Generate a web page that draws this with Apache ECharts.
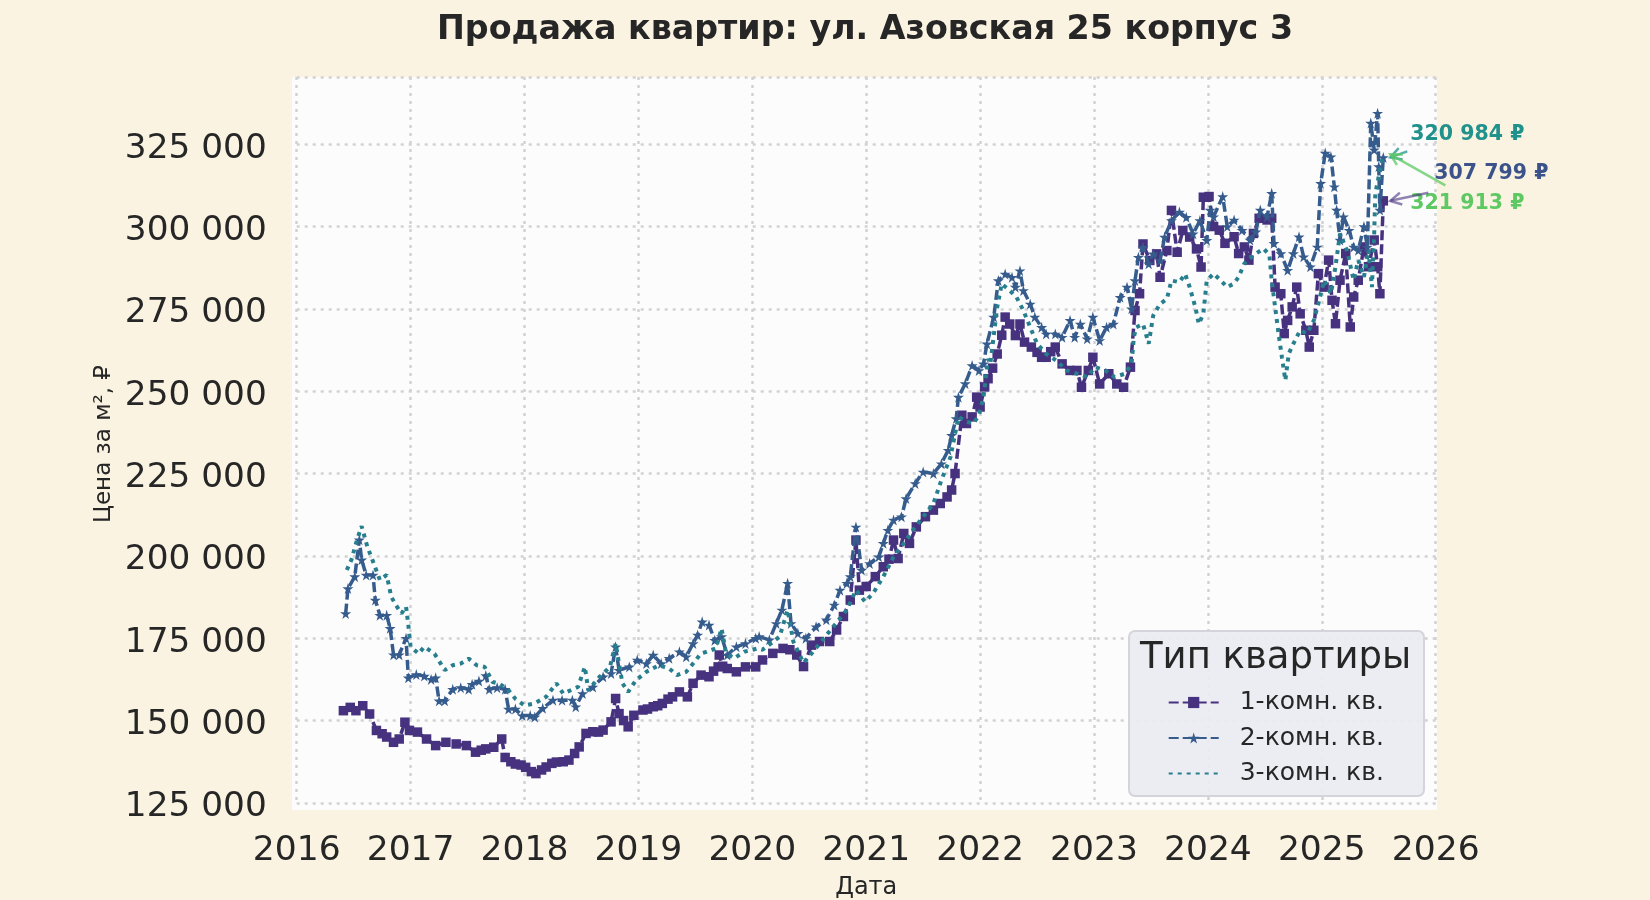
<!DOCTYPE html>
<html>
<head>
<meta charset="utf-8">
<title>Продажа квартир</title>
<script src="https://cdn.jsdelivr.net/npm/echarts@6/dist/echarts.min.js"></script>
<style>
  html, body { margin: 0; padding: 0; background: #FAF3E1; }
  #main { width: 1650px; height: 900px; }
</style>
</head>
<body>
<div id="main"></div>
<script>
// даты в долях года, цены за м² в рублях
const years1 = [2016.41, 2016.47, 2016.52, 2016.58, 2016.64, 2016.70, 2016.75, 2016.79, 2016.85, 2016.90, 2016.95, 2016.99,
  2017.06, 2017.14, 2017.22, 2017.31, 2017.40, 2017.49, 2017.57, 2017.62, 2017.66, 2017.73, 2017.80, 2017.83, 2017.88, 2017.92, 2017.97,
  2018.01, 2018.06, 2018.10, 2018.15, 2018.19, 2018.24, 2018.28, 2018.34, 2018.39, 2018.44, 2018.48, 2018.54, 2018.60, 2018.65, 2018.69,
  2018.76, 2018.80, 2018.83, 2018.87, 2018.91, 2018.96, 2019.04, 2019.08, 2019.13, 2019.17, 2019.21, 2019.26, 2019.30, 2019.36, 2019.43,
  2019.48, 2019.55, 2019.62, 2019.66, 2019.70, 2019.71, 2019.74, 2019.78, 2019.86, 2019.94, 2020.03, 2020.09, 2020.18, 2020.27, 2020.33,
  2020.39, 2020.45, 2020.52, 2020.59, 2020.68, 2020.74, 2020.80, 2020.86, 2020.91, 2020.94, 2021.00, 2021.08, 2021.15, 2021.20, 2021.24,
  2021.28, 2021.33, 2021.38, 2021.44, 2021.52, 2021.59, 2021.65, 2021.71, 2021.75, 2021.78, 2021.84, 2021.88, 2021.93, 2021.97, 2022.00,
  2022.04, 2022.07, 2022.11, 2022.15, 2022.19, 2022.22, 2022.26, 2022.31, 2022.35, 2022.39, 2022.45, 2022.50, 2022.54, 2022.58, 2022.62,
  2022.66, 2022.72, 2022.79, 2022.85, 2022.89, 2022.95, 2022.99, 2023.05, 2023.13, 2023.20, 2023.26, 2023.32, 2023.36, 2023.40, 2023.43,
  2023.49, 2023.55, 2023.58, 2023.64, 2023.68, 2023.73, 2023.78, 2023.84, 2023.90, 2023.94, 2023.96, 2024.01, 2024.05, 2024.10, 2024.15,
  2024.23, 2024.27, 2024.32, 2024.36, 2024.40, 2024.45, 2024.52, 2024.56, 2024.59, 2024.64, 2024.67, 2024.70, 2024.74, 2024.78, 2024.81,
  2024.86, 2024.89, 2024.93, 2024.97, 2025.02, 2025.06, 2025.09, 2025.12, 2025.16, 2025.21, 2025.25, 2025.28, 2025.32, 2025.37, 2025.41,
  2025.46, 2025.49, 2025.51, 2025.54]
const price1 = [153000, 154000, 153000, 154500, 152000, 147000, 146000, 145000, 143400, 144400, 149500, 147000,
  146500, 144400, 142400, 143400, 142900, 142400, 140400, 141000, 141400, 141900, 144400, 138800, 137500, 136800, 136500,
  135800, 134500, 133900, 135000, 135900, 137000, 137400, 137500, 138000, 140000, 142000, 146100, 146600, 146500, 147100,
  149600, 156700, 152100, 150000, 148100, 151600, 153200, 153500, 154200, 154500, 155200, 156500, 157200, 158700, 157200,
  161300, 163800, 163300, 165000, 166300, 169900, 166500, 165800, 164800, 166300, 166300, 168400, 170400, 171900, 171500,
  169900, 166400, 172900, 174000, 174000, 177500, 181600, 186600, 204800, 189600, 190700, 193700, 196700, 199000, 204800,
  199200, 206800, 203800, 208800, 211900, 213900, 215900, 217900, 220000, 225000, 242700, 240200, 242200, 248200, 245200,
  251300, 253800, 257000, 261300, 267000, 272500, 270400, 266900, 270400, 264900, 263400, 261800, 260300, 260300, 262000,
  263400, 258300, 256300, 256300, 251200, 256300, 260300, 252200, 255300, 252200, 251200, 257300, 274500, 279600, 294700,
  289700, 291700, 284600, 292700, 304900, 292200, 298800, 296800, 293200, 287700, 308900, 309100, 300000, 298900, 294900,
  296900, 291800, 293800, 289800, 297900, 302500, 302000, 302500, 281600, 279600, 267500, 271500, 275600, 281600, 273500,
  268500, 263400, 268500, 285700, 281600, 289800, 277600, 270500, 283700, 291800, 269500, 278600, 283700, 293800, 287800,
  295900, 287800, 279600, 307799]

const years2 = [2016.43, 2016.45, 2016.51, 2016.55, 2016.57, 2016.61, 2016.67, 2016.69, 2016.73, 2016.79, 2016.82, 2016.85, 2016.90,
  2016.96, 2016.98, 2017.05, 2017.12, 2017.18, 2017.22, 2017.25, 2017.30, 2017.37, 2017.44, 2017.51, 2017.54, 2017.60, 2017.66, 2017.69,
  2017.76, 2017.83, 2017.86, 2017.92, 2017.98, 2018.05, 2018.09, 2018.16, 2018.25, 2018.33, 2018.42, 2018.45, 2018.51, 2018.60, 2018.69,
  2018.76, 2018.80, 2018.83, 2018.92, 2018.99, 2019.07, 2019.13, 2019.20, 2019.27, 2019.36, 2019.42, 2019.48, 2019.52, 2019.56, 2019.62,
  2019.67, 2019.73, 2019.78, 2019.86, 2019.94, 2020.03, 2020.06, 2020.15, 2020.21, 2020.26, 2020.31, 2020.34, 2020.40, 2020.47, 2020.56,
  2020.65, 2020.72, 2020.77, 2020.83, 2020.86, 2020.91, 2020.96, 2021.03, 2021.11, 2021.15, 2021.19, 2021.24, 2021.31, 2021.35, 2021.43,
  2021.50, 2021.59, 2021.66, 2021.72, 2021.75, 2021.79, 2021.81, 2021.87, 2021.93, 2021.99, 2022.03, 2022.06, 2022.12, 2022.16, 2022.22,
  2022.28, 2022.31, 2022.35, 2022.38, 2022.44, 2022.48, 2022.54, 2022.58, 2022.66, 2022.72, 2022.79, 2022.83, 2022.88, 2022.94, 2022.99,
  2023.05, 2023.11, 2023.17, 2023.23, 2023.29, 2023.33, 2023.36, 2023.39, 2023.43, 2023.48, 2023.52, 2023.58, 2023.62, 2023.68, 2023.75,
  2023.81, 2023.87, 2023.93, 2023.99, 2024.02, 2024.05, 2024.13, 2024.17, 2024.23, 2024.30, 2024.37, 2024.42, 2024.46, 2024.52, 2024.56,
  2024.58, 2024.64, 2024.70, 2024.75, 2024.80, 2024.84, 2024.90, 2024.96, 2024.99, 2025.03, 2025.08, 2025.11, 2025.13, 2025.16, 2025.19,
  2025.24, 2025.28, 2025.32, 2025.37, 2025.40, 2025.43, 2025.46, 2025.49, 2025.50, 2025.51, 2025.54]
const price2 = [182500, 190100, 193700, 204900, 198800, 194200, 194200, 186600, 182000, 182000, 178000, 170000, 170000,
  175000, 163000, 164000, 163500, 162500, 163000, 156000, 156000, 159500, 160000, 159500, 161000, 162000, 163700, 159500,
  160000, 159500, 153500, 153500, 151500, 151500, 151100, 153700, 156200, 156200, 156200, 154200, 158200, 160200, 163300,
  164300, 172400, 165300, 166300, 168400, 167300, 169900, 167300, 168900, 170900, 169400, 173400, 176000, 180000, 179000,
  174400, 175500, 169900, 172400, 173400, 175000, 175500, 174500, 179500, 183600, 191700, 179500, 176500, 175000, 178500,
  180600, 185100, 189600, 191700, 193700, 208800, 195700, 197700, 199700, 203800, 207800, 210900, 211900, 217400, 222000,
  225500, 225000, 228000, 232100, 236600, 241700, 248200, 252300, 257800, 256300, 258300, 264400, 272500, 283600, 285600,
  284600, 281600, 286600, 280600, 276500, 272500, 269400, 267400, 267400, 266400, 271500, 266400, 270400, 265900, 272500,
  265400, 269400, 270400, 278500, 281600, 275000, 283600, 290700, 293700, 288700, 291700, 289700, 296800, 301800, 304400,
  302800, 297800, 301800, 295800, 305000, 303000, 309100, 300000, 302000, 298900, 295900, 298400, 305000, 303000, 310100,
  294900, 291800, 286700, 291800, 296900, 290800, 287800, 293800, 313100, 322300, 321200, 312100, 305000, 295900, 303000,
  298900, 293800, 292800, 300000, 293800, 331400, 323300, 334400, 318200, 305000, 320984]

const years3 = [2016.44, 2016.48, 2016.53, 2016.57, 2016.62, 2016.67, 2016.73, 2016.79, 2016.83, 2016.87, 2016.92, 2016.96, 2016.98,
  2017.00, 2017.07, 2017.12, 2017.21, 2017.30, 2017.37, 2017.44, 2017.51, 2017.58, 2017.65, 2017.72, 2017.78, 2017.86, 2017.92,
  2018.00, 2018.09, 2018.19, 2018.28, 2018.34, 2018.47, 2018.53, 2018.56, 2018.66, 2018.75, 2018.80, 2018.86, 2018.91, 2018.98,
  2019.07, 2019.18, 2019.27, 2019.34, 2019.42, 2019.48, 2019.55, 2019.60, 2019.68, 2019.73, 2019.77, 2019.84, 2019.93, 2020.05,
  2020.09, 2020.24, 2020.31, 2020.36, 2020.45, 2020.56, 2020.71, 2020.83, 2020.91, 2020.99, 2021.06, 2021.15, 2021.24, 2021.33,
  2021.41, 2021.50, 2021.59, 2021.66, 2021.74, 2021.81, 2021.88, 2021.94, 2021.99, 2022.03, 2022.07, 2022.09, 2022.15, 2022.19,
  2022.26, 2022.32, 2022.38, 2022.44, 2022.50, 2022.58, 2022.67, 2022.76, 2022.85, 2022.94, 2023.01, 2023.10, 2023.18, 2023.27,
  2023.33, 2023.35, 2023.37, 2023.43, 2023.48, 2023.52, 2023.58, 2023.64, 2023.68, 2023.75, 2023.80, 2023.84, 2023.89, 2023.92,
  2023.96, 2023.99, 2024.05, 2024.11, 2024.17, 2024.23, 2024.27, 2024.32, 2024.40, 2024.49, 2024.54, 2024.56, 2024.59, 2024.62,
  2024.65, 2024.68, 2024.71, 2024.75, 2024.81, 2024.87, 2024.93, 2024.97, 2025.02, 2025.08, 2025.12, 2025.16, 2025.22, 2025.28,
  2025.32, 2025.37, 2025.41, 2025.44, 2025.46, 2025.47, 2025.50, 2025.54]
const price3 = [195700, 198800, 204900, 209000, 202800, 198300, 192700, 194200, 187600, 185100, 182500, 184600, 179000,
  172400, 170300, 172400, 170300, 165300, 166800, 167300, 168800, 166800, 166300, 161700, 161200, 159200, 156600,
  154600, 155200, 157200, 161300, 158200, 160200, 166300, 159200, 163300, 166300, 173400, 161300, 158700, 162300,
  164800, 166800, 165800, 163800, 164800, 167300, 170400, 170900, 171900, 178000, 170400, 168900, 170900, 171900,
  171500, 175500, 183600, 174000, 167500, 172000, 178500, 183600, 189600, 186100, 188600, 193700, 199700, 203800,
  207800, 211900, 215900, 223000, 230000, 242200, 240700, 240200, 242700, 248200, 259800, 258300, 275500, 282600,
  280600, 278500, 274500, 269400, 264400, 261300, 259300, 256300, 255300, 254300, 257300, 256300, 254300, 255300,
  258300, 266400, 269400, 270400, 264400, 273000, 276500, 278000, 283600, 283100, 285600, 281600, 275500, 270400,
  273500, 283600, 285700, 283700, 281600, 282700, 284700, 288800, 291300, 293300, 291300, 283700, 275600, 267500,
  260300, 253300, 261400, 264400, 268500, 267500, 271500, 276600, 283700, 279600, 287800, 297900, 292800, 283700,
  289800, 284700, 292800, 281600, 297900, 310100, 315200, 321913]

const seriesNames = ['1-комн. кв.', '2-комн. кв.', '3-комн. кв.']
const seriesColors = ['#46327E', '#365C8D', '#277F8E']
const yearTicks = [2016, 2017, 2018, 2019, 2020, 2021, 2022, 2023, 2024, 2025, 2026]

const STAR = 'path://M50,0 L61,35 L98,35 L68,57 L79,91 L50,70 L21,91 L32,57 L2,35 L39,35 Z'
const TXT = '#262626'
const FONT = 'DejaVu Sans'
const GRIDLINE = { color: '#D2D2D2', width: 2.5, type: [3, 5] }

const zip = (xs, ys) => xs.map((x, i) => [x, ys[i]])
const fmtRub = v => String(Math.round(v)).replace(/\B(?=(\d{3})+(?!\d))/g, ' ')

const chart = echarts.init(document.getElementById('main'), null, { renderer: 'canvas' })

chart.setOption({
  backgroundColor: '#FAF3E1',
  animation: false,
  textStyle: { fontFamily: FONT },
  title: {
    text: 'Продажа квартир: ул. Азовская 25 корпус 3',
    left: 860,
    top: 9,
    textAlign: 'center',
    textStyle: { fontFamily: FONT, fontSize: 33.3, fontWeight: 'bold', color: TXT }
  },
  grid: { left: 296.7, right: 214.3, top: 77, bottom: 97.1, containLabel: false, outerBoundsMode: 'none' },
  xAxis: {
    type: 'value',
    min: yearTicks[0],
    max: yearTicks[yearTicks.length - 1],
    interval: 1,
    name: 'Дата',
    nameLocation: 'middle',
    nameGap: 73,
    nameTextStyle: { fontFamily: FONT, fontSize: 24, color: TXT },
    axisLine: { show: false },
    axisTick: { show: false },
    axisLabel: { margin: 31, fontSize: 34.5, color: TXT, fontFamily: FONT, formatter: v => String(v) },
    splitLine: { show: true, lineStyle: GRIDLINE }
  },
  yAxis: {
    type: 'value',
    min: 125000,
    max: 345400,
    interval: 25000,
    name: 'Цена за м², ₽',
    nameLocation: 'middle',
    nameGap: 181,
    nameMoveOverlap: false,
    nameTextStyle: { fontFamily: FONT, fontSize: 23, color: TXT, padding: [0, 8, 0, 0] },
    axisLine: { show: false },
    axisTick: { show: false },
    axisLabel: { margin: 30, fontSize: 34.3, color: TXT, fontFamily: FONT, showMaxLabel: false,
      verticalAlign: 'top', lineHeight: 9, formatter: fmtRub },
    splitLine: { show: true, lineStyle: GRIDLINE }
  },
  legend: {
    orient: 'vertical',
    left: 1162.7,
    top: 685,
    itemWidth: 50,
    itemHeight: 14,
    itemGap: 10.5,
    z: 10,
    data: [
      seriesNames[0],
      seriesNames[1],
      { name: seriesNames[2], itemStyle: { opacity: 0 } }
    ],
    textStyle: { fontFamily: FONT, fontSize: 25, color: TXT, padding: [0, 0, 0, 16] }
  },
  graphic: [
    { type: 'rect', z: -1, silent: true, shape: { x: 292, y: 77, width: 1145, height: 733 }, style: { fill: '#FCFCFD' } },
    { type: 'rect', z: 8, silent: true, shape: { x: 1129, y: 631, width: 295, height: 165, r: 6 },
      style: { fill: 'rgba(234,234,242,0.92)', stroke: '#D4D4DA', lineWidth: 2 } },
    { type: 'text', z: 9, silent: true, left: 1140, top: 640,
      style: { text: 'Тип квартиры', fill: TXT, font: '37px "DejaVu Sans"' } }
  ],
  series: [
    {
      name: seriesNames[0], type: 'line', data: zip(years1, price1), z: 2,
      color: seriesColors[0],
      symbol: 'rect', symbolSize: 9.5, showAllSymbol: true,
      lineStyle: { width: 3.5, type: [10, 4], color: seriesColors[0] },
      itemStyle: { color: seriesColors[0] }
    },
    {
      name: seriesNames[1], type: 'line', data: zip(years2, price2), z: 3,
      color: seriesColors[1],
      symbol: STAR, symbolSize: 11, showAllSymbol: true,
      lineStyle: { width: 3.5, type: [10, 4], color: seriesColors[1] },
      itemStyle: { color: seriesColors[1] }
    },
    {
      name: seriesNames[2], type: 'line', data: zip(years3, price3), z: 4,
      color: seriesColors[2],
      symbol: 'none', showSymbol: false,
      lineStyle: { width: 4, type: [4, 5], color: seriesColors[2] },
      itemStyle: { color: seriesColors[2] }
    }
  ]
})

// подписи последних значений со стрелками
const arrow = (from, to, color) => {
  const dx = to[0] - from[0], dy = to[1] - from[1]
  const len = Math.sqrt(dx * dx + dy * dy)
  const ux = dx / len, uy = dy / len
  const h = 11, w = 6
  const bx = to[0] - ux * h, by = to[1] - uy * h
  return [
    { type: 'line', z: 12, silent: true, shape: { x1: from[0], y1: from[1], x2: to[0], y2: to[1] },
      style: { stroke: color, lineWidth: 2.5 } },
    { type: 'polyline', z: 12, silent: true,
      shape: { points: [[bx - uy * w, by + ux * w], to, [bx + uy * w, by - ux * w]] },
      style: { stroke: color, lineWidth: 2.5, fill: null } }
  ]
}
const tipOf = (xs, ys) => {
  const p = chart.convertToPixel({ gridIndex: 0 }, [xs[xs.length - 1], ys[ys.length - 1]])
  return [p[0] + 7, p[1]]
}
const tip1 = tipOf(years1, price1)
const tip2 = tipOf(years2, price2)
const tip3 = tipOf(years3, price3)
const labelFont = 'bold 20.5px "DejaVu Sans"'

const notes = [
  { type: 'text', z: 12, silent: true, x: tip2[0] + 20, y: tip2[1] - 23,
    style: { text: fmtRub(price2[price2.length - 1]) + ' ₽', fill: '#21918C', font: labelFont, verticalAlign: 'middle' } },
  { type: 'text', z: 12, silent: true, x: tip1[0] + 44, y: tip1[1] - 27,
    style: { text: fmtRub(price1[price1.length - 1]) + ' ₽', fill: '#3B528B', font: labelFont, verticalAlign: 'middle' } },
  { type: 'text', z: 12, silent: true, x: tip3[0] + 20, y: tip3[1] + 49,
    style: { text: fmtRub(price3[price3.length - 1]) + ' ₽', fill: '#5EC962', font: labelFont, verticalAlign: 'middle' } }
]
  .concat(arrow([tip2[0] + 17, tip2[1] - 6], tip2, 'rgba(33,145,140,0.75)'))
  .concat(arrow([tip3[0] + 55, tip3[1] + 31], tip3, 'rgba(94,201,98,0.75)'))
  .concat(arrow([tip1[0] + 38, tip1[1] - 8], tip1, 'rgba(70,50,126,0.6)'))

chart.setOption({ graphic: chart.getOption().graphic[0].elements.concat(notes) }, { replaceMerge: [] })
</script>
</body>
</html>
